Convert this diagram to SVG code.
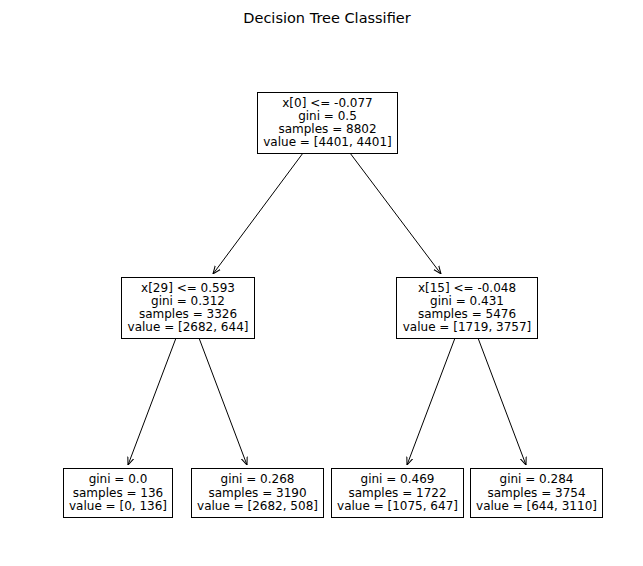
<svg xmlns="http://www.w3.org/2000/svg" width="643" height="566" viewBox="0 0 643 566">
<style>
.t{font-family:"DejaVu Sans",sans-serif;font-size:12px;fill:#000;text-anchor:middle}
.title{font-family:"DejaVu Sans",sans-serif;font-size:14.5px;fill:#000;text-anchor:middle}
.box{fill:#fff;stroke:#000;stroke-width:1}
.e{stroke:#000;stroke-width:1;fill:none;marker-end:url(#ah)}
</style>
<defs>
<marker id="ah" viewBox="0 0 10 10" refX="10" refY="5" markerWidth="8" markerHeight="8" orient="auto" markerUnits="userSpaceOnUse">
<path d="M0,1 L10,5 L0,9" fill="none" stroke="#000" stroke-width="1.3"/>
</marker>
</defs>
<rect width="643" height="566" fill="#fff"/>
<text class="title" x="327" y="23">Decision Tree Classifier</text>
<g id="connectors">
<line class="e" x1="303" y1="153" x2="213" y2="274"/>
<line class="e" x1="350" y1="153" x2="441" y2="274"/>
<line class="e" x1="176" y1="338" x2="128" y2="465"/>
<line class="e" x1="199" y1="338" x2="247" y2="465"/>
<line class="e" x1="455" y1="338" x2="407" y2="465"/>
<line class="e" x1="478" y1="338" x2="526" y2="465"/>
</g>
<g id="n0">
<rect class="box" x="257.5" y="92.5" width="140" height="61"/>
<text class="t" x="327.5" y="107">x[0] &lt;= -0.077</text>
<text class="t" x="327.5" y="120">gini = 0.5</text>
<text class="t" x="327.5" y="133">samples = 8802</text>
<text class="t" x="327.5" y="146">value = [4401, 4401]</text>
</g>
<g id="n1">
<rect class="box" x="121.5" y="277.5" width="133" height="61"/>
<text class="t" x="188" y="292">x[29] &lt;= 0.593</text>
<text class="t" x="188" y="305">gini = 0.312</text>
<text class="t" x="188" y="318">samples = 3326</text>
<text class="t" x="188" y="331">value = [2682, 644]</text>
</g>
<g id="n4">
<rect class="box" x="396.5" y="277.5" width="141" height="61"/>
<text class="t" x="467" y="292">x[15] &lt;= -0.048</text>
<text class="t" x="467" y="305">gini = 0.431</text>
<text class="t" x="467" y="318">samples = 5476</text>
<text class="t" x="467" y="331">value = [1719, 3757]</text>
</g>
<g id="n2">
<rect class="box" x="63.5" y="468.5" width="109" height="49"/>
<text class="t" x="118" y="483">gini = 0.0</text>
<text class="t" x="118" y="496.5">samples = 136</text>
<text class="t" x="118" y="510">value = [0, 136]</text>
</g>
<g id="n3">
<rect class="box" x="191.5" y="468.5" width="132" height="49"/>
<text class="t" x="257.5" y="483">gini = 0.268</text>
<text class="t" x="257.5" y="496.5">samples = 3190</text>
<text class="t" x="257.5" y="510">value = [2682, 508]</text>
</g>
<g id="n5">
<rect class="box" x="331.5" y="468.5" width="132" height="49"/>
<text class="t" x="397.5" y="483">gini = 0.469</text>
<text class="t" x="397.5" y="496.5">samples = 1722</text>
<text class="t" x="397.5" y="510">value = [1075, 647]</text>
</g>
<g id="n6">
<rect class="box" x="470.5" y="468.5" width="132" height="49"/>
<text class="t" x="536.5" y="483">gini = 0.284</text>
<text class="t" x="536.5" y="496.5">samples = 3754</text>
<text class="t" x="536.5" y="510">value = [644, 3110]</text>
</g>
</svg>
